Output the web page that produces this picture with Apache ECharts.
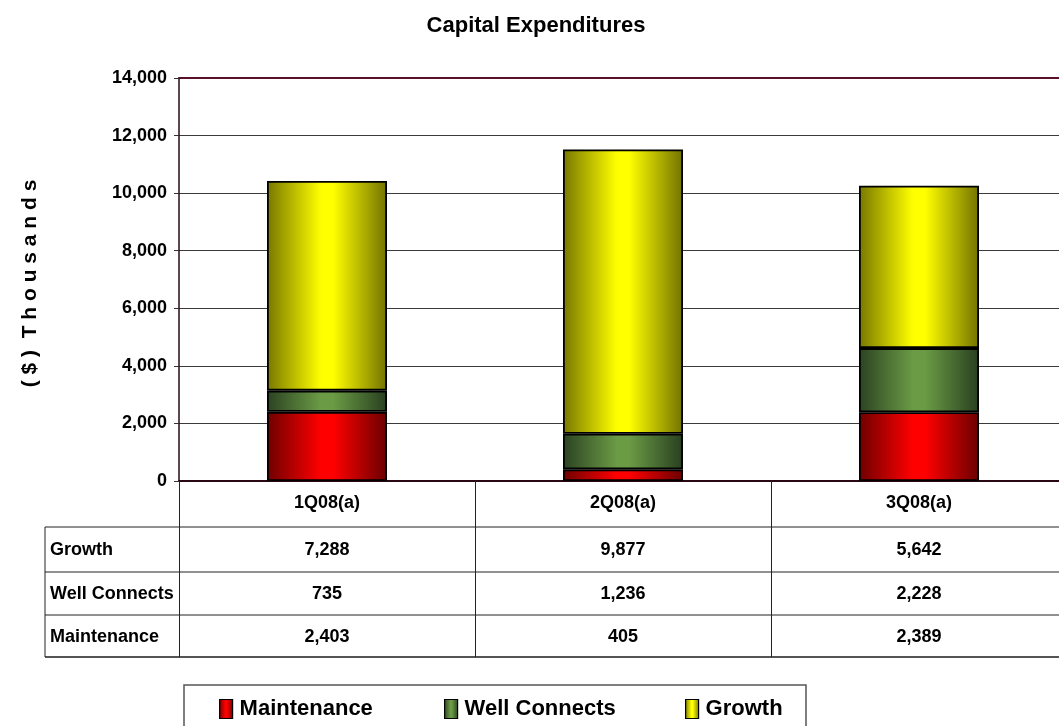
<!DOCTYPE html>
<html>
<head>
<meta charset="utf-8">
<title>Capital Expenditures</title>
<script src="https://cdn.jsdelivr.net/npm/echarts@6/dist/echarts.min.js"></script>
<style>
  html, body { margin: 0; padding: 0; background: #ffffff; overflow: hidden; }
  /* the plot area runs slightly past the right edge of the window */
  #chart { width: 1067px; height: 726px; }
</style>
</head>
<body>
<div id="chart"></div>
<script>
// Quarterly capital expenditures, $ thousands
const categories = ['1Q08(a)', '2Q08(a)', '3Q08(a)'];
const maintenance = [2403, 405, 2389];
const wellConnects = [735, 1236, 2228];
const growth = [7288, 9877, 5642];

const seriesNames = ['Maintenance', 'Well Connects', 'Growth'];
// data table rows, top to bottom
const tableRows = [
  { label: 'Growth', values: growth },
  { label: 'Well Connects', values: wellConnects },
  { label: 'Maintenance', values: maintenance }
];

const FONT = '"Liberation Sans", Arial, sans-serif';

function barGradient(edgeL, mid, edgeR) {
  return new echarts.graphic.LinearGradient(0, 0, 1, 0, [
    { offset: 0, color: edgeL },
    { offset: 0.45, color: mid },
    { offset: 0.55, color: mid },
    { offset: 1, color: edgeR }
  ]);
}
const fills = {
  'Maintenance': barGradient('#6e0000', '#ff0000', '#6a0000'),
  'Well Connects': barGradient('#2b4222', '#6b9b45', '#283f20'),
  'Growth': barGradient('#777700', '#ffff00', '#727200')
};
const valuesBySeries = {
  'Maintenance': maintenance,
  'Well Connects': wellConnects,
  'Growth': growth
};

const fmt = v => v.toLocaleString('en-US');

const chart = echarts.init(document.getElementById('chart'), null, { renderer: 'canvas' });

const legendLefts = [219, 444, 685];

chart.setOption({
  animation: false,
  backgroundColor: '#ffffff',
  title: {
    text: 'Capital Expenditures',
    left: 531,
    top: 10,
    textAlign: 'center',
    textStyle: { fontFamily: FONT, fontWeight: 'bold', fontSize: 22, color: '#000' }
  },
  grid: { left: 179, right: 0, top: 78, bottom: 245, containLabel: false },
  legend: seriesNames.map((name, i) => ({
    data: [name],
    left: legendLefts[i],
    top: 698,
    padding: 0,
    icon: 'rect',
    itemWidth: 13,
    itemHeight: 19,
    itemGap: 0,
    selectedMode: false,
    itemStyle: { borderColor: '#000', borderWidth: 1.2 },
    textStyle: { fontFamily: FONT, fontWeight: 'bold', fontSize: 22, color: '#000', padding: [0, 0, 0, 2] }
  })),
  xAxis: [
    {
      type: 'category',
      data: categories,
      axisLine: { show: true, lineStyle: { color: '#2a0812', width: 2 } },
      axisTick: { show: true, length: 176, lineStyle: { color: '#222', width: 1 } },
      axisLabel: { margin: 13, fontFamily: FONT, fontWeight: 'bold', fontSize: 18, color: '#000' }
    },
    {
      type: 'category',
      data: categories,
      position: 'top',
      axisLine: { show: true, lineStyle: { color: '#5a1028', width: 2 } },
      axisTick: { show: false },
      axisLabel: { show: false }
    }
  ],
  yAxis: {
    type: 'value',
    min: 0,
    max: 14000,
    interval: 2000,
    name: '( $ )  T h o u s a n d s',
    nameLocation: 'middle',
    nameGap: 138,
    nameRotate: 90,
    nameTextStyle: { fontFamily: FONT, fontWeight: 'bold', fontSize: 21, color: '#000', padding: [0, 8, 0, 0] },
    axisLine: { show: true, lineStyle: { color: '#2a0812', width: 1.5 } },
    axisTick: { show: true, length: 5, lineStyle: { color: '#333' } },
    axisLabel: {
      margin: 12,
      fontFamily: FONT, fontWeight: 'bold', fontSize: 18, color: '#000',
      formatter: v => fmt(v)
    },
    splitLine: { show: true, lineStyle: { color: '#3a3a3a', width: 1 } }
  },
  series: seriesNames.map(name => ({
    name: name,
    type: 'bar',
    stack: 'capex',
    barWidth: 120,
    data: valuesBySeries[name],
    itemStyle: { color: fills[name], borderColor: '#000', borderWidth: 1.8 },
    emphasis: { disabled: true }
  }))
});

// Data table under the plot, aligned to the category axis
const colX = categories.map((c, i) => chart.convertToPixel({ xAxisIndex: 0 }, i));
const rowBounds = [527, 572, 615, 657];
const tableLeft = 45, tableRight = 1067;
const lineStyle = { stroke: '#222', lineWidth: 1 };
const graphics = [];

rowBounds.forEach((y, i) => {
  graphics.push({
    type: 'line',
    shape: { x1: tableLeft, y1: y, x2: tableRight, y2: y },
    style: i === rowBounds.length - 1 ? { stroke: '#555', lineWidth: 2 } : lineStyle,
    silent: true
  });
});
graphics.push({
  type: 'line',
  shape: { x1: tableLeft, y1: rowBounds[0], x2: tableLeft, y2: rowBounds[rowBounds.length - 1] },
  style: lineStyle,
  silent: true
});

tableRows.forEach((row, r) => {
  const yMid = (rowBounds[r] + rowBounds[r + 1]) / 2 + 1;
  graphics.push({
    type: 'text',
    style: {
      text: row.label, x: tableLeft + 5, y: yMid,
      align: 'left', verticalAlign: 'middle',
      font: 'bold 18px ' + FONT, fill: '#000'
    },
    silent: true
  });
  row.values.forEach((v, c) => {
    graphics.push({
      type: 'text',
      style: {
        text: fmt(v), x: colX[c], y: yMid,
        align: 'center', verticalAlign: 'middle',
        font: 'bold 18px ' + FONT, fill: '#000'
      },
      silent: true
    });
  });
});

// Legend frame
graphics.push({
  type: 'rect',
  shape: { x: 184, y: 685, width: 622, height: 60 },
  style: { fill: 'none', stroke: '#555', lineWidth: 1.5 },
  silent: true,
  z: -1
});

chart.setOption({ graphic: graphics });
</script>
</body>
</html>
